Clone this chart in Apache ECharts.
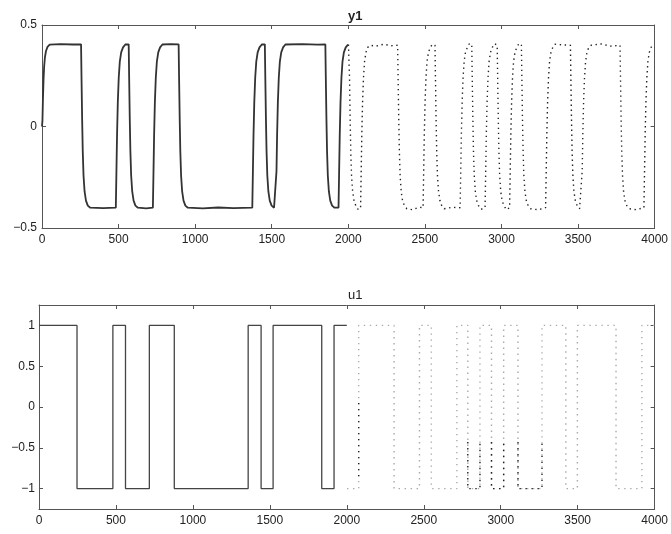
<!DOCTYPE html>
<html>
<head>
<meta charset="utf-8">
<script src="https://cdn.jsdelivr.net/npm/echarts@6/dist/echarts.min.js"></script>
<style>
  html, body { margin: 0; padding: 0; background: #fff; }
  #chart { width: 671px; height: 534px; }
</style>
</head>
<body>
<div id="chart"></div>
<script>
// x ticks shared by both plots
const xTicks = [0, 500, 1000, 1500, 2000, 2500, 3000, 3500, 4000];
const y1Ticks = [-0.5, 0, 0.5];
const u1Ticks = [-1, -0.5, 0, 0.5, 1];

// y1, first half (solid), [sample, value]
const y1Solid = [
  [0, 0.00], [3, 0.03], [6, 0.13], [10, 0.23], [14, 0.295], [19, 0.34], [26, 0.372], [36, 0.392], [50, 0.403],
  [120, 0.406], [200, 0.404],
  [255, 0.405], [258, 0.24], [262, 0.04], [266, -0.12], [271, -0.24], [278, -0.32], [287, -0.365], [299, -0.39], [315, -0.40],
  [400, -0.402],
  [482, -0.40], [486, -0.22], [490, -0.04], [495, 0.12], [501, 0.24], [508, 0.32], [517, 0.365], [529, 0.39], [544, 0.404],
  [566, 0.405], [569, 0.24], [573, 0.04], [577, -0.12], [582, -0.24], [589, -0.32], [598, -0.365], [610, -0.39], [626, -0.40],
  [680, -0.403],
  [724, -0.40], [728, -0.22], [732, -0.04], [737, 0.12], [743, 0.24], [750, 0.32], [759, 0.365], [771, 0.39], [786, 0.404],
  [840, 0.406],
  [892, 0.405], [895, 0.24], [899, 0.04], [903, -0.12], [908, -0.24], [915, -0.32], [924, -0.365], [936, -0.39], [952, -0.40],
  [1050, -0.403], [1150, -0.399], [1250, -0.402],
  [1373, -0.40], [1377, -0.22], [1381, -0.04], [1386, 0.12], [1392, 0.24], [1399, 0.32], [1408, 0.365], [1420, 0.39], [1435, 0.404],
  [1455, 0.405], [1458, 0.24], [1462, 0.04], [1466, -0.12], [1471, -0.24], [1478, -0.32], [1487, -0.365], [1499, -0.39], [1515, -0.40],
  [1527, -0.40], [1531, -0.22], [1535, -0.04], [1540, 0.12], [1546, 0.24], [1553, 0.32], [1562, 0.365], [1574, 0.39], [1589, 0.404],
  [1700, 0.406], [1800, 0.403],
  [1850, 0.405], [1853, 0.24], [1857, 0.04], [1861, -0.12], [1866, -0.24], [1873, -0.32], [1882, -0.365], [1894, -0.39], [1910, -0.40],
  [1936, -0.40], [1940, -0.22], [1944, -0.04], [1949, 0.12], [1955, 0.24], [1962, 0.32], [1971, 0.365], [1983, 0.39], [1998, 0.403], [2000, 0.404]
];

// y1, second half (dotted)
const y1Dotted = [
  [2001, 0.404], [2005, 0.40], [2008, 0.24], [2012, 0.04], [2016, -0.12], [2021, -0.24], [2028, -0.32], [2037, -0.365], [2049, -0.39], [2065, -0.41],
  [2080, -0.40], [2084, -0.22], [2088, -0.04], [2093, 0.12], [2099, 0.24], [2106, 0.32], [2115, 0.365], [2127, 0.39], [2142, 0.40], [2180, 0.396], [2230, 0.405], [2280, 0.398],
  [2322, 0.40], [2325, 0.24], [2329, 0.04], [2333, -0.12], [2338, -0.24], [2345, -0.32], [2354, -0.365], [2366, -0.39], [2382, -0.405], [2420, -0.41], [2460, -0.398],
  [2488, -0.40], [2492, -0.22], [2496, -0.04], [2501, 0.12], [2507, 0.24], [2514, 0.32], [2523, 0.365], [2535, 0.39], [2550, 0.405],
  [2566, 0.40], [2569, 0.24], [2573, 0.04], [2577, -0.12], [2582, -0.24], [2589, -0.32], [2598, -0.365], [2610, -0.39], [2626, -0.405], [2680, -0.398],
  [2730, -0.40], [2734, -0.22], [2738, -0.04], [2743, 0.12], [2749, 0.24], [2756, 0.32], [2765, 0.365], [2777, 0.39], [2792, 0.41],
  [2806, 0.40], [2809, 0.24], [2813, 0.04], [2817, -0.12], [2822, -0.24], [2829, -0.32], [2838, -0.365], [2850, -0.39], [2866, -0.408],
  [2893, -0.40], [2897, -0.22], [2901, -0.04], [2906, 0.12], [2912, 0.24], [2919, 0.32], [2928, 0.365], [2940, 0.39], [2955, 0.408],
  [2972, 0.40], [2975, 0.24], [2979, 0.04], [2983, -0.12], [2988, -0.24], [2995, -0.32], [3004, -0.365], [3016, -0.39], [3032, -0.41],
  [3053, -0.40], [3057, -0.22], [3061, -0.04], [3066, 0.12], [3072, 0.24], [3079, 0.32], [3088, 0.365], [3100, 0.39], [3115, 0.41],
  [3130, 0.40], [3133, 0.24], [3137, 0.04], [3141, -0.12], [3146, -0.24], [3153, -0.32], [3162, -0.365], [3174, -0.39], [3190, -0.405], [3240, -0.41],
  [3288, -0.40], [3292, -0.22], [3296, -0.04], [3301, 0.12], [3307, 0.24], [3314, 0.32], [3323, 0.365], [3335, 0.39], [3350, 0.405], [3400, 0.402],
  [3450, 0.40], [3453, 0.24], [3457, 0.04], [3461, -0.12], [3466, -0.24], [3473, -0.32], [3482, -0.365], [3494, -0.39], [3510, -0.405],
  [3523, -0.40], [3527, -0.22], [3531, -0.04], [3536, 0.12], [3542, 0.24], [3549, 0.32], [3558, 0.365], [3570, 0.39], [3585, 0.40], [3650, 0.407], [3710, 0.396],
  [3774, 0.40], [3777, 0.24], [3781, 0.04], [3785, -0.12], [3790, -0.24], [3797, -0.32], [3806, -0.365], [3818, -0.39], [3834, -0.405], [3880, -0.41],
  [3930, -0.40], [3934, -0.22], [3938, -0.04], [3943, 0.12], [3949, 0.24], [3956, 0.32], [3965, 0.365], [3977, 0.39], [3992, 0.40], [4000, 0.40]
];

// u1 switching instants and the level held after each
const u1SolidSwitch = [0, 247, 480, 562, 717, 879, 1359, 1443, 1521, 1837, 1917];
const u1SolidLevel = [1, -1, 1, -1, 1, -1, 1, -1, 1, -1, 1];
const u1SolidEnd = 2000;
const u1DottedSwitch = [2001, 2077, 2307, 2472, 2549, 2715, 2786, 2865, 2940, 3019, 3112, 3268, 3423, 3498, 3749, 3917];
const u1DottedLevel = [-1, 1, -1, 1, -1, 1, -1, 1, -1, 1, -1, 1, -1, 1, -1, 1];
const u1DottedEnd = 4000;
// parts of the dotted u1 that came out darker in the print
const u1Dark = [
  [2077, 0.05], [2077, -0.9], null,
  [2786, -0.43], [2786, -1], [2865, -1], [2865, -0.43], null,
  [2940, -0.43], [2940, -1], [3019, -1], [3019, -0.43], null,
  [3112, -0.43], [3112, -1], [3268, -1], [3268, -0.45]
];

function stepData(switches, levels, end) {
  let d = switches.map((t, i) => [t, levels[i]]);
  d.push([end, levels[levels.length - 1]]);
  return d;
}

function fmt(v) {
  return v < 0 ? "\u2212" + String(-v) : String(v);
}

let frame = { lineStyle: { color: "#555", width: 1 } };
let font = { fontFamily: "Liberation Sans", fontSize: 12, color: "#222" };

function xAx(grid, top) {
  return {
    type: "value", gridIndex: grid, position: top ? "top" : "bottom",
    min: 0, max: 4000, interval: 500,
    axisLine: Object.assign({ show: true, onZero: false }, frame),
    axisTick: { show: true, inside: true, length: 4, lineStyle: { color: "#555" } },
    axisLabel: Object.assign({ show: !top, margin: 6, customValues: xTicks, formatter: v => String(v) }, font),
    splitLine: { show: false }
  };
}

function yAx(grid, right, min, max, ticks, margin) {
  return {
    type: "value", gridIndex: grid, position: right ? "right" : "left",
    min: min, max: max,
    axisLine: Object.assign({ show: true, onZero: false }, frame),
    axisTick: { show: true, inside: true, length: 4, customValues: ticks, lineStyle: { color: "#555" } },
    axisLabel: Object.assign({ show: !right, margin: margin, customValues: ticks, formatter: fmt }, font),
    splitLine: { show: false }
  };
}

let myChart = echarts.init(document.getElementById("chart"));
myChart.setOption({
  animation: false,
  backgroundColor: "#fff",
  title: [
    { text: "y1", left: 343, top: 5, textStyle: { fontFamily: "Liberation Sans", fontSize: 13, fontWeight: "bold", color: "#222" } },
    { text: "u1", left: 343, top: 284, textStyle: { fontFamily: "Liberation Sans", fontSize: 13, fontWeight: "normal", color: "#222" } }
  ],
  grid: [
    { left: 42, top: 25, width: 618, height: 203 },
    { left: 39, top: 305, width: 619, height: 204 }
  ],
  xAxis: [xAx(0, false), xAx(0, true), xAx(1, false), xAx(1, true)],
  yAxis: [
    yAx(0, false, -0.5, 0.5, y1Ticks, 5),
    yAx(0, true, -0.5, 0.5, y1Ticks, 5),
    yAx(1, false, -1.25, 1.25, u1Ticks, 4),
    yAx(1, true, -1.25, 1.25, u1Ticks, 4)
  ],
  series: [
    {
      type: "line", xAxisIndex: 0, yAxisIndex: 0, data: y1Solid,
      showSymbol: false, silent: true,
      lineStyle: { color: "#333", width: 1.8 }
    },
    {
      type: "line", xAxisIndex: 0, yAxisIndex: 0, data: y1Dotted,
      showSymbol: false, silent: true,
      lineStyle: { color: "#222", width: 1.4, type: [1.4, 3.6] }
    },
    {
      type: "line", xAxisIndex: 2, yAxisIndex: 2, step: "end",
      data: stepData(u1SolidSwitch, u1SolidLevel, u1SolidEnd),
      showSymbol: false, silent: true,
      lineStyle: { color: "#444", width: 1.3 }
    },
    {
      type: "line", xAxisIndex: 2, yAxisIndex: 2, step: "end",
      data: stepData(u1DottedSwitch, u1DottedLevel, u1DottedEnd),
      showSymbol: false, silent: true,
      lineStyle: { color: "#aaa", width: 1.4, type: [1.4, 4.6] }
    },
    {
      type: "line", xAxisIndex: 2, yAxisIndex: 2, data: u1Dark,
      showSymbol: false, silent: true, connectNulls: false,
      lineStyle: { color: "#222", width: 1.4, type: [1.4, 4.6] }
    }
  ]
});
</script>
</body>
</html>
